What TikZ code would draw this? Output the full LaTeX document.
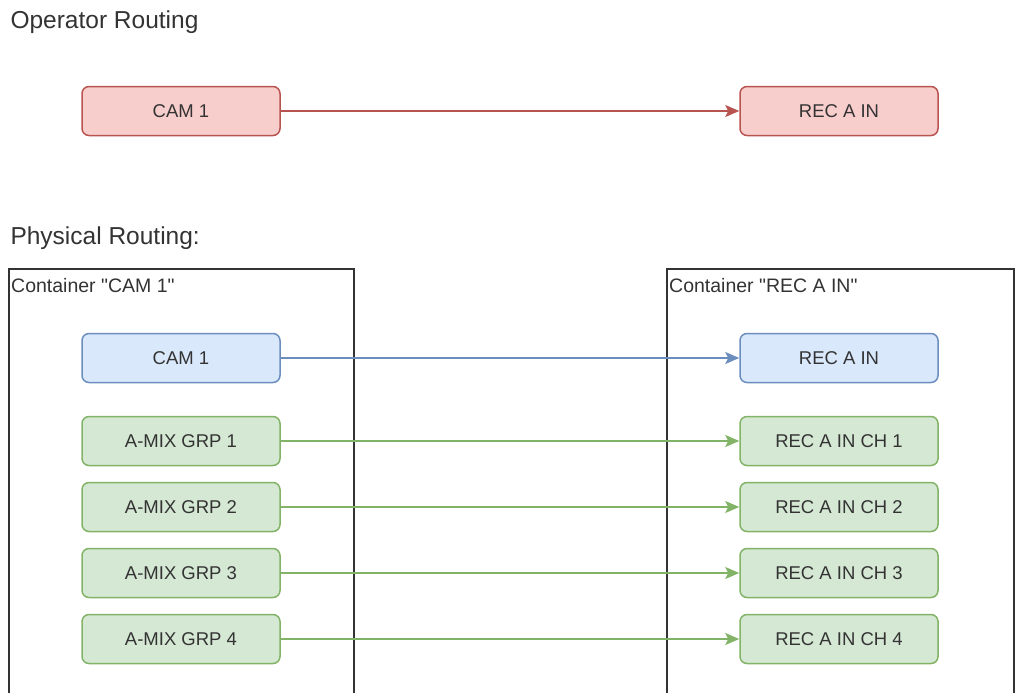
\documentclass[tikz,border=0pt]{standalone}
\usepackage{fontspec}
\setmainfont{Liberation Sans}[Ligatures=TeXOff]
\usetikzlibrary{arrows.meta}
\definecolor{redFill}{HTML}{F8CECC}
\definecolor{redLine}{HTML}{B85450}
\definecolor{blueFill}{HTML}{DAE8FC}
\definecolor{blueLine}{HTML}{6C8EBF}
\definecolor{greenFill}{HTML}{D5E8D4}
\definecolor{greenLine}{HTML}{82B366}
\definecolor{textGray}{HTML}{333333}
\begin{document}
\begin{tikzpicture}[
  x=1pt, y=-1pt,
  every node/.style={font=\fontsize{19.5}{23}\selectfont, text=textGray},
  box/.style={rectangle, draw, rounded corners=7pt, line width=1.5pt,
    minimum width=198pt, minimum height=49pt, inner sep=0pt,
    font=\fontsize{18.5}{22}\selectfont},
  nodeRed/.style={box, draw=redLine, fill=redFill},
  nodeBlue/.style={box, draw=blueLine, fill=blueFill},
  nodeGreen/.style={box, draw=greenLine, fill=greenFill},
  container/.style={rectangle, draw=black!80, line width=1.5pt, inner sep=0pt},
  title/.style={anchor=west, font=\fontsize{24.5}{29}\selectfont},
  link/.style={line width=1.5pt, -{Stealth[length=14pt, width=12pt, inset=3pt]}}
  ]
  \useasboundingbox (0,0) rectangle (1017,693);
  \clip (0,0) rectangle (1017,693);

  % operator view
  \node[title] (opTitle) at (7,22) {Operator Routing};
  \node[nodeRed] (camOp) at (181,111) {CAM 1};
  \node[nodeRed] (recOp) at (839,111) {REC A IN};
  \draw[link, redLine] (camOp) -- (recOp);

  % physical view
  \node[title] (phyTitle) at (7,238) {Physical Routing:};
  \node[container, minimum width=345pt, minimum height=460pt, anchor=north west] (camCont) at (8,268) {};
  \node[container, minimum width=347pt, minimum height=460pt, anchor=north west] (recCont) at (666,268) {};
  \node[anchor=west, inner sep=0pt] (camContLabel) at (11,286) {Container "CAM 1"};
  \node[anchor=west, inner sep=0pt] (recContLabel) at (669,286) {Container "REC A IN"};

  \node[nodeBlue] (camPhy) at (181,358) {CAM 1};
  \node[nodeBlue] (recPhy) at (839,358) {REC A IN};
  \draw[link, blueLine] (camPhy) -- (recPhy);

  \foreach \i/\y in {1/441, 2/507, 3/573, 4/639} {
    \node[nodeGreen] (grp\i) at (181,\y) {A-MIX GRP \i};
    \node[nodeGreen] (ch\i) at (839,\y) {REC A IN CH \i};
    \draw[link, greenLine] (grp\i) -- (ch\i);
  }
\end{tikzpicture}
\end{document}
